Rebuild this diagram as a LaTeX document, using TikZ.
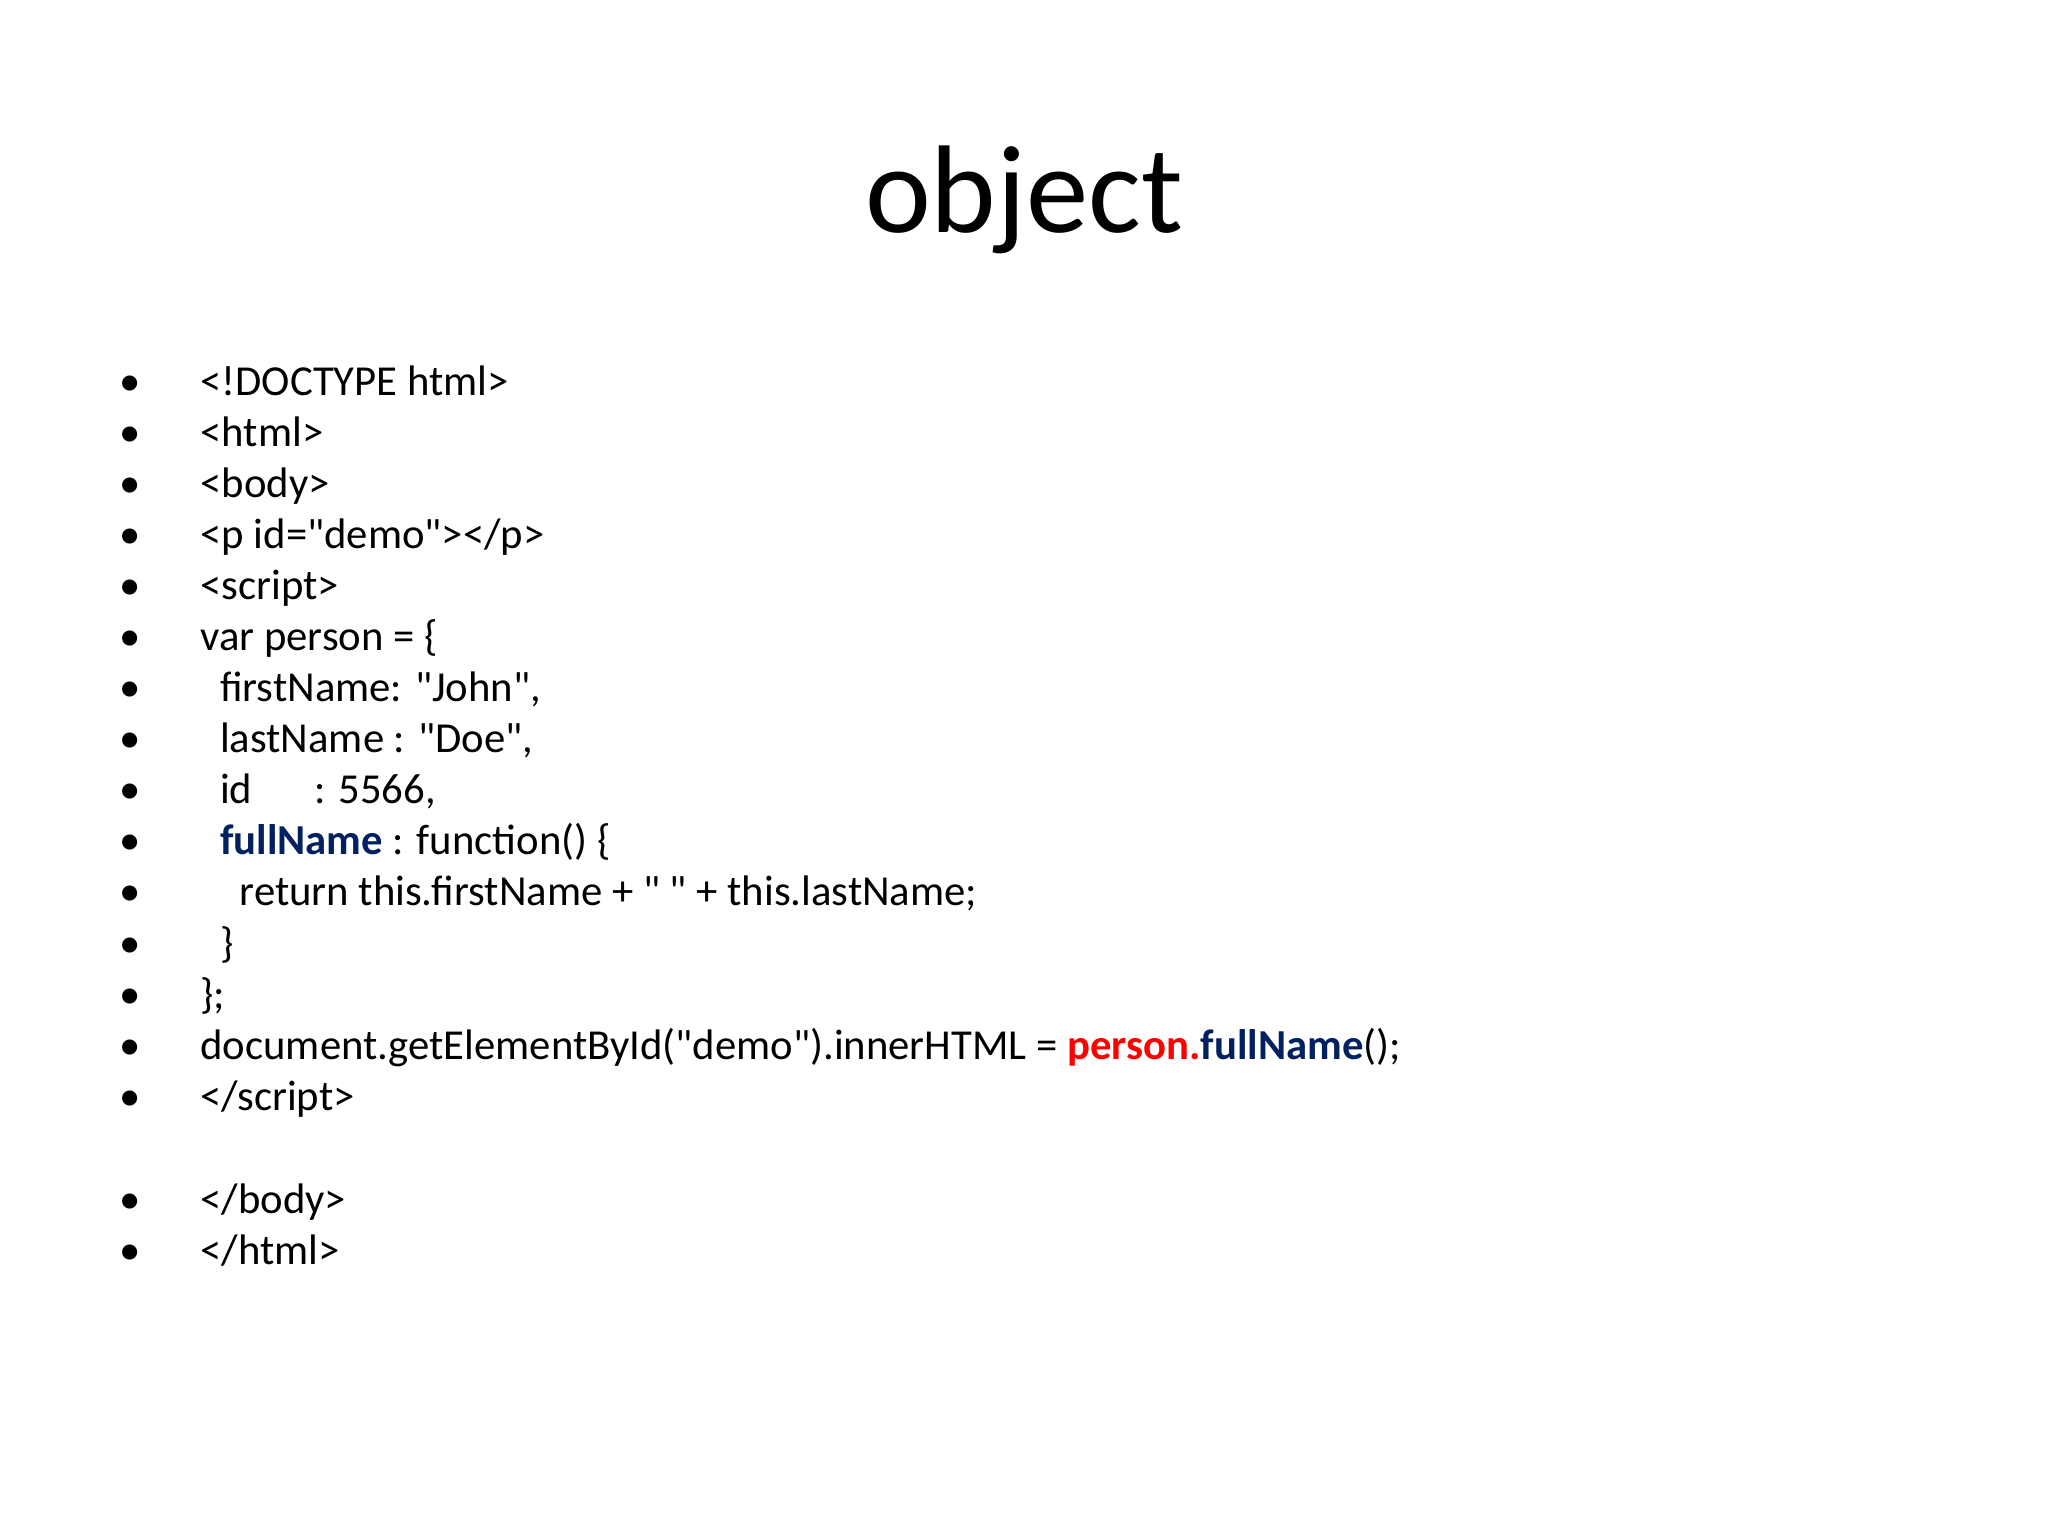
\documentclass[tikz,border=0pt]{standalone}
\usepackage{fontspec}
\newfontfamily\calib{Carlito}
\definecolor{navy}{HTML}{002060}
\definecolor{hred}{HTML}{FF0000}
\begin{document}
\begin{tikzpicture}[x=0.013061cm,y=-0.013061cm,
  ln/.style={anchor=base west,inner sep=0pt,font=\calib\fontsize{12.15}{15}\selectfont},
  bul/.style={anchor=base,inner sep=0pt,font=\calib\fontsize{12.15}{15}\selectfont}]
\useasboundingbox (0,0) rectangle (1568,1176);
\node[anchor=base,inner sep=0pt,font=\calib\fontsize{35.5}{40}\selectfont] (title) at (784,178) {object};
\foreach \y [count=\i] in {303,342,381,420,459,498,537,576,615,654,693,733,772,811,850,929,968}
  \node[bul] (b\i) at (100,\y) {•};
\node[ln] (l1) at (153,303) {<!DOCTYPE html>};
\node[ln] (l2) at (153,342) {<html>};
\node[ln] (l3) at (153,381) {<body>};
\node[ln] (l4) at (153,420) {<p id="demo"></p>};
\node[ln] (l5) at (153,459) {<script>};
\node[ln] (l6) at (153,498) {var person = \{};
\node[ln] (l7) at (168,537) {firstName: "John",};
\node[ln] (l8) at (168,576) {lastName : "Doe",};
\node[ln] (l9) at (168,615) {id\hspace{1.45em}: 5566,};
\node[ln] (l10) at (168,654) {\textcolor{navy}{\bfseries fullName} : function() \{};
\node[ln] (l11) at (183,693) {return this.firstName + " " + this.lastName;};
\node[ln] (l12) at (168,733) {\}};
\node[ln] (l13) at (153,772) {\};};
\node[ln] (l14) at (153,811) {document.getElementById("demo").innerHTML = \textcolor{hred}{\bfseries person.}\textcolor{navy}{\bfseries fullName}();};
\node[ln] (l15) at (153,850) {</script>};
\node[ln] (l16) at (153,929) {</body>};
\node[ln] (l17) at (153,968) {</html>};
\end{tikzpicture}
\end{document}
